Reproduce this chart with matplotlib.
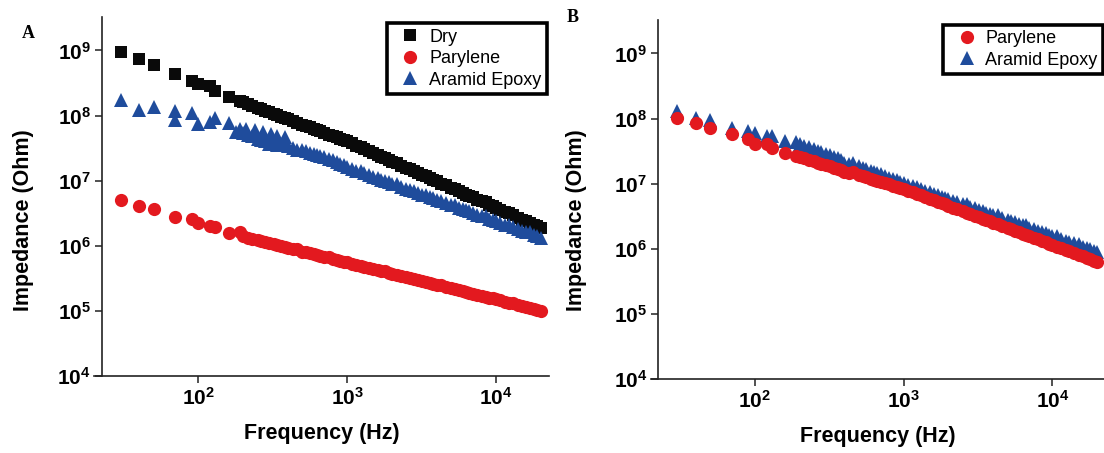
import matplotlib.pyplot as plt
import matplotlib.ticker as mticker

plt.rcParams['font.family'] = ['Liberation Sans', 'DejaVu Sans']
plt.rcParams['font.weight'] = 'bold'
plt.rcParams['axes.labelweight'] = 'bold'

# frequency sweep (Hz), shared by all series
freq = [30, 40, 50, 70, 90, 100, 120, 130, 160, 190,
        200, 215, 230, 250, 265, 280, 300, 320, 340, 360,
        380, 400, 430, 460, 500, 530, 560, 600, 630, 660,
        700, 750, 800, 850, 900, 950, 1000, 1070, 1150, 1230,
        1300, 1400, 1500, 1600, 1700, 1800, 1900, 2000, 2150, 2300,
        2500, 2650, 2800, 3000, 3200, 3400, 3600, 3800, 4000, 4300,
        4600, 5000, 5300, 5600, 6000, 6300, 6600, 7000, 7500, 8000,
        8500, 9000, 9500, 10000, 10700, 11500, 12300, 13000, 14000, 15000,
        16000, 17000, 18000, 19000, 20000]

# panel A impedance (Ohm)
dry_a = [9.6e8, 7.3e8, 5.9e8, 4.4e8, 3.4e8, 3.1e8, 2.8e8, 2.4e8, 1.93e8, 1.66e8,
         1.59e8, 1.50e8, 1.41e8, 1.32e8, 1.25e8, 1.19e8, 1.12e8, 1.06e8, 1.01e8, 9.6e7,
         9.2e7, 8.8e7, 8.2e7, 7.8e7, 7.2e7, 6.9e7, 6.6e7, 6.2e7, 5.9e7, 5.7e7,
         5.4e7, 5.1e7, 4.8e7, 4.6e7, 4.4e7, 4.2e7, 4.0e7, 3.72e7, 3.45e7, 3.3e7,
         3.05e7, 2.82e7, 2.63e7, 2.47e7, 2.32e7, 2.19e7, 2.07e7, 1.96e7, 1.85e7, 1.70e7,
         1.56e7, 1.48e7, 1.39e7, 1.30e7, 1.22e7, 1.17e7, 1.08e7, 1.02e7, 9.7e6, 9.0e6,
         8.4e6, 7.7e6, 7.5e6, 6.9e6, 6.4e6, 6.1e6, 5.8e6, 5.5e6, 5.1e6, 4.8e6,
         4.6e6, 4.2e6, 4.0e6, 3.8e6, 3.55e6, 3.30e6, 3.15e6, 2.91e6, 2.70e6, 2.51e6,
         2.35e6, 2.26e6, 2.09e6, 1.97e6, 1.87e6]
parylene_a = [5.0e6, 4.0e6, 3.6e6, 2.8e6, 2.6e6, 2.2e6, 2.0e6, 1.9e6, 1.56e6, 1.62e6,
              1.42e6, 1.31e6, 1.26e6, 1.20e6, 1.16e6, 1.13e6, 1.09e6, 1.05e6, 1.01e6, 1.0e6,
              9.5e5, 9.2e5, 8.9e5, 8.8e5, 8.1e5, 7.9e5, 7.6e5, 7.3e5, 7.1e5, 6.95e5,
              6.7e5, 6.7e5, 6.2e5, 6.0e5, 5.8e5, 5.65e5, 5.5e5, 5.3e5, 5.1e5, 4.9e5,
              4.75e5, 4.55e5, 4.4e5, 4.2e5, 4.1e5, 4.05e5, 3.8e5, 3.7e5, 3.55e5, 3.4e5,
              3.27e5, 3.17e5, 3.07e5, 2.95e5, 2.85e5, 2.75e5, 2.67e5, 2.58e5, 2.51e5, 2.46e5,
              2.32e5, 2.21e5, 2.14e5, 2.07e5, 2.0e5, 1.95e5, 1.89e5, 1.83e5, 1.76e5, 1.70e5,
              1.64e5, 1.59e5, 1.58e5, 1.50e5, 1.44e5, 1.38e5, 1.33e5, 1.29e5, 1.24e5, 1.19e5,
              1.15e5, 1.11e5, 1.07e5, 1.04e5, 9.9e4]
aramid_a = [1.73e8, 1.22e8, 1.35e8, 1.17e8, 1.08e8, 7.4e7, 8.0e7, 9.0e7, 7.6e7, 6.2e7,
            5.4e7, 5.1e7, 4.8e7, 4.4e7, 4.2e7, 4.0e7, 3.7e7, 3.6e7, 3.55e7, 3.6e7,
            3.5e7, 3.45e7, 3.15e7, 3.0e7, 2.9e7, 2.8e7, 2.7e7, 2.6e7, 2.5e7, 2.42e7,
            2.3e7, 2.18e7, 2.05e7, 1.95e7, 1.82e7, 1.72e7, 1.6e7, 1.51e7, 1.42e7, 1.4e7,
            1.29e7, 1.21e7, 1.14e7, 1.08e7, 1.03e7, 9.8e6, 9.4e6, 9.0e6, 8.9e6, 8.0e6,
            7.5e6, 7.1e6, 6.8e6, 6.4e6, 6.1e6, 6.1e6, 5.5e6, 5.3e6, 5.1e6, 4.8e6,
            4.5e6, 4.2e6, 4.2e6, 3.8e6, 3.6e6, 3.5e6, 3.35e6, 3.2e6, 3.0e6, 2.85e6,
            2.85e6, 2.58e6, 2.47e6, 2.37e6, 2.24e6, 2.10e6, 2.1e6, 1.90e6, 1.79e6, 1.69e6,
            1.60e6, 1.6e6, 1.45e6, 1.39e6, 1.33e6]
# repeated readings of the aramid sample in panel A
aramid_a_extra_freq = [70, 180, 210, 240, 270, 310, 340, 380]
aramid_a_extra = [8.5e7, 5.5e7, 6.3e7, 5.9e7, 5.6e7, 5.2e7, 4.9e7, 4.6e7]

# panel B impedance (Ohm)
parylene_b = [1.03e8, 8.5e7, 7.2e7, 5.7e7, 4.8e7, 4.1e7, 4.1e7, 3.55e7, 3.0e7, 2.7e7,
              2.57e7, 2.44e7, 2.33e7, 2.20e7, 2.11e7, 2.03e7, 1.94e7, 1.85e7, 1.77e7, 1.70e7,
              1.64e7, 1.5e7, 1.45e7, 1.52e7, 1.35e7, 1.30e7, 1.25e7, 1.19e7, 1.15e7, 1.11e7,
              1.07e7, 1.02e7, 9.75e6, 9.3e6, 9.0e6, 8.6e6, 8.3e6, 7.85e6, 7.4e6, 6.97e6,
              6.6e6, 6.2e6, 5.9e6, 5.6e6, 5.3e6, 5.0e6, 4.8e6, 4.6e6, 4.3e6, 4.1e6,
              3.8e6, 3.6e6, 3.45e6, 3.24e6, 3.06e6, 2.9e6, 2.77e6, 2.64e6, 2.52e6, 2.38e6,
              2.24e6, 2.08e6, 1.98e6, 1.89e6, 1.78e6, 1.71e6, 1.64e6, 1.56e6, 1.47e6, 1.39e6,
              1.32e6, 1.26e6, 1.20e6, 1.15e6, 1.08e6, 1.02e6, 9.6e5, 9.2e5, 8.6e5, 8.1e5,
              7.7e5, 7.3e5, 6.9e5, 6.6e5, 6.3e5]
aramid_b = [1.29e8, 1.03e8, 9.5e7, 7.2e7, 6.4e7, 6.0e7, 5.4e7, 5.4e7, 4.5e7, 4.3e7,
            4.07e7, 3.83e7, 3.61e7, 3.37e7, 3.20e7, 3.05e7, 2.88e7, 2.72e7, 2.59e7, 2.46e7,
            2.35e7, 2.1e7, 2.0e7, 2.1e7, 1.86e7, 1.77e7, 1.69e7, 1.59e7, 1.52e7, 1.46e7,
            1.39e7, 1.31e7, 1.24e7, 1.18e7, 1.12e7, 1.07e7, 1.02e7, 9.7e6, 9.1e6, 8.9e6,
            8.3e6, 7.8e6, 7.4e6, 7.0e6, 6.7e6, 6.35e6, 6.1e6, 5.8e6, 5.5e6, 5.2e6,
            4.9e6, 4.85e6, 4.45e6, 4.2e6, 4.0e6, 3.8e6, 3.6e6, 3.47e6, 3.33e6, 3.3e6,
            2.97e6, 2.78e6, 2.65e6, 2.54e6, 2.40e6, 2.31e6, 2.35e6, 2.12e6, 2.0e6, 1.9e6,
            1.81e6, 1.73e6, 1.65e6, 1.58e6, 1.58e6, 1.42e6, 1.34e6, 1.28e6, 1.21e6, 1.2e6,
            1.08e6, 1.03e6, 9.8e5, 9.4e5, 9.0e5]

BLACK = '#0a0a0a'
RED = '#e3191f'
BLUE = '#1f4c9c'
W, H = 1104, 453

fig = plt.figure(figsize=(W / 100, H / 100), dpi=100)
ax_a = fig.add_axes([94.3 / W, 1 - 375.7 / H, 454.7 / W, 358.7 / H])
ax_b = fig.add_axes([650.7 / W, 1 - 379 / H, 454.7 / W, 359 / H])


def style(ax, ylab_pos):
    ax.set_xscale('log')
    ax.set_yscale('log')
    ax.set_xlim(20, 22700)
    ax.set_ylim(1e4, 3.27e9)
    for s in ['top', 'right']:
        ax.spines[s].set_visible(False)
    for s in ['left', 'bottom']:
        ax.spines[s].set_linewidth(1.2)
        ax.spines[s].set_color('#222222')
    ax.spines['left'].set_position(('data', 22.5))
    ax.set_xticks([1e2, 1e3, 1e4])
    ax.set_yticks([1e4, 1e5, 1e6, 1e7, 1e8, 1e9])
    ax.xaxis.set_minor_locator(mticker.NullLocator())
    ax.yaxis.set_minor_locator(mticker.NullLocator())
    ax.tick_params(direction='out', length=5, width=1.1, color='#222222',
                   labelsize=15, pad=3)
    ax.set_xlabel('Frequency (Hz)', fontsize=15.5, labelpad=10)
    ax.set_ylabel('Impedance (Ohm)', fontsize=15.5)
    ax.yaxis.set_label_coords(*ylab_pos)


def legend(ax, anchor):
    leg = ax.legend(loc='upper right', bbox_to_anchor=anchor, borderaxespad=0,
                    prop={'weight': 'normal', 'size': 13}, fancybox=False,
                    edgecolor='black', framealpha=1, borderpad=0.3,
                    handletextpad=0.05, labelspacing=0.25, handlelength=2.0)
    leg.get_frame().set_linewidth(2.6)


mk = dict(ls='none', mew=0)

ax_a.plot(freq, dry_a, marker='s', ms=9, color=BLACK, label='Dry', **mk)
ax_a.plot(freq, parylene_a, marker='o', ms=9.5, color=RED, label='Parylene', **mk)
ax_a.plot(freq, aramid_a, marker='^', ms=10.5, color=BLUE, label='Aramid Epoxy', **mk)
ax_a.plot(aramid_a_extra_freq, aramid_a_extra, marker='^', ms=10.5, color=BLUE, **mk)
style(ax_a, (-0.133, 0.434))
legend(ax_a, (0.9956, 0.983))

ax_b.plot(freq, parylene_b, marker='o', ms=9.5, color=RED, label='Parylene', zorder=3, **mk)
ax_b.plot(freq, aramid_b, marker='^', ms=10.5, color=BLUE, label='Aramid Epoxy', zorder=2, **mk)
style(ax_b, (-0.140, 0.443))
legend(ax_b, (0.995, 0.987))

fig.text(28 / W, 1 - 33 / H, 'A', family='Liberation Serif', weight='bold',
         fontsize=13, ha='center', va='center')
fig.text(573 / W, 1 - 17.5 / H, 'B', family='Liberation Serif', weight='bold',
         fontsize=13, ha='center', va='center')

fig.savefig('out.png', dpi=100)
